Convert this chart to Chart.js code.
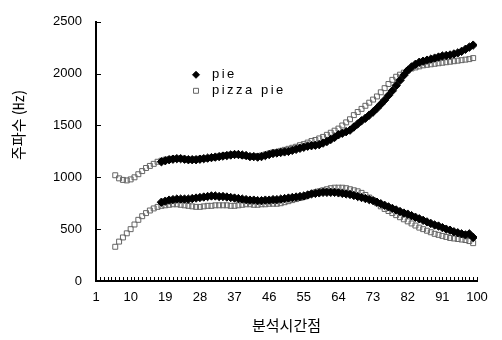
<!DOCTYPE html>
<html>
<head>
<meta charset="utf-8">
<script src="https://cdn.jsdelivr.net/npm/chart.js@4.4.1/dist/chart.umd.min.js"></script>
<style>
  html, body { margin: 0; padding: 0; background: #fff; }
</style>
</head>
<body>
<canvas id="myChart" width="502" height="340"></canvas>
<script>
// analysis frames: each series starts at its own frame, one value per frame
const pizzaStart = 6;
const pieStart = 18;

// pizza pie, upper track (frames 6..99)
const pizzaUpper = [
  1020, 990, 975, 970, 980, 1000, 1030, 1060, 1090, 1110,
  1130, 1150, 1160, 1170, 1175, 1180, 1180, 1180, 1175, 1170,
  1170, 1175, 1180, 1180, 1185, 1190, 1195, 1200, 1210, 1215,
  1220, 1220, 1215, 1210, 1205, 1200, 1200, 1205, 1210, 1220,
  1230, 1240, 1245, 1255, 1265, 1275, 1285, 1295, 1310, 1320,
  1335, 1350, 1360, 1375, 1390, 1410, 1430, 1450, 1470, 1500,
  1530, 1560, 1600, 1630, 1660, 1690, 1720, 1750, 1780, 1820,
  1860, 1900, 1940, 1970, 1990, 2010, 2030, 2050, 2060, 2070,
  2080, 2085, 2090, 2095, 2100, 2105, 2110, 2115, 2120, 2125,
  2130, 2135, 2140, 2150
];
// pizza pie, lower track (frames 6..99)
const pizzaLower = [
  330, 380, 420, 460, 500, 545, 590, 625, 655, 680,
  700, 715, 725, 730, 735, 740, 740, 735, 730, 725,
  720, 715, 715, 720, 725, 725, 730, 730, 730, 730,
  725, 725, 730, 735, 740, 740, 735, 735, 740, 740,
  745, 745, 745, 750, 760, 770, 780, 790, 800, 810,
  825, 840, 855, 865, 875, 885, 895, 900, 900, 900,
  895, 885, 875, 865, 850, 830, 805, 780, 750, 720,
  695, 675, 655, 635, 615, 595, 575, 555, 535, 515,
  500, 485, 470, 455, 445, 435, 425, 415, 410, 405,
  400, 395, 385, 365
];
// pie, upper track (frames 18..99)
const pieUpper = [
  1150, 1160, 1170, 1175, 1180, 1180, 1175, 1170, 1170, 1170,
  1175, 1180, 1185, 1190, 1195, 1200, 1205, 1210, 1215, 1220,
  1220, 1215, 1210, 1200, 1200, 1195, 1200, 1210, 1220, 1230,
  1235, 1240, 1245, 1250, 1260, 1270, 1280, 1290, 1300, 1305,
  1310, 1315, 1330, 1345, 1365, 1385, 1410, 1425, 1440, 1455,
  1485, 1515, 1545, 1570, 1600, 1630, 1665, 1705, 1745, 1790,
  1835, 1885, 1935, 1985, 2030, 2065, 2090, 2110, 2120, 2130,
  2140, 2150, 2160, 2170, 2175, 2180, 2190, 2200, 2215, 2235,
  2255, 2275
];
// pie, lower track (frames 18..99)
const pieLower = [
  760, 770, 780, 785, 790, 790, 790, 790, 795, 800,
  805, 810, 815, 820, 820, 815, 815, 810, 805, 800,
  795, 790, 785, 780, 780, 775, 775, 780, 780, 785,
  785, 790, 795, 800, 805, 810, 815, 820, 830, 840,
  845, 850, 855, 855, 855, 855, 850, 845, 840, 835,
  825, 815, 805, 795, 785, 775, 760, 745, 730, 715,
  700, 685, 670, 655, 645, 630, 615, 600, 585, 570,
  555, 540, 530, 515, 500, 490, 475, 465, 455, 445,
  455, 420
];

const xTickLabels = [1, 10, 19, 28, 37, 46, 55, 64, 73, 82, 91, 100];
const yTicks = [0, 500, 1000, 1500, 2000, 2500];
const seriesNames = ['pie', 'pizza pie'];

const toPoints = (start, arr) => arr.map((v, i) => ({ x: start + i, y: v }));

const pieStyle = {
  pointStyle: 'rectRot', pointRadius: 4.2,
  backgroundColor: '#000', borderColor: '#000', borderWidth: 1
};
const pizzaStyle = {
  pointStyle: 'rect', pointRadius: 3.5,
  backgroundColor: 'rgba(255,255,255,0)', borderColor: '#666', borderWidth: 1
};

const tickFont = { family: "'Liberation Sans', Arial, sans-serif", size: 13 };
const krFont = "'Noto Sans CJK KR', sans-serif";

function legendMark(ctx, style, radius, px, py) {
  ctx.fillStyle = style.backgroundColor;
  ctx.strokeStyle = style.borderColor;
  ctx.lineWidth = style.borderWidth;
  Chart.helpers.drawPoint(ctx, {
    pointStyle: style.pointStyle, radius: radius, rotation: 0, borderWidth: style.borderWidth
  }, px, py);
}

// inner tick marks, y title and the legend inside the plot
const extras = {
  id: 'extras',
  afterDraw(chart) {
    const { ctx, chartArea: { left, top, bottom }, scales: { x, y } } = chart;
    ctx.save();
    ctx.strokeStyle = '#000';
    ctx.lineWidth = 1;
    yTicks.forEach(v => {
      const py = Math.round(y.getPixelForValue(v)) + 0.5;
      ctx.beginPath();
      ctx.moveTo(left, py);
      ctx.lineTo(left + 5, py);
      ctx.stroke();
    });
    x.ticks.forEach(t => {
      const px = Math.round(x.getPixelForValue(t.value)) + 0.5;
      ctx.beginPath();
      ctx.moveTo(px, bottom);
      ctx.lineTo(px, bottom - 4);
      ctx.stroke();
    });

    // y axis title
    ctx.fillStyle = '#000';
    ctx.font = '15px ' + krFont;
    ctx.translate(18, 125);
    ctx.rotate(-Math.PI / 2);
    ctx.textAlign = 'center';
    ctx.textBaseline = 'middle';
    ctx.fillText('주파수 (㎐)', 0, 0);
    ctx.restore();

    // legend
    ctx.save();
    const lx = left + 100, ly = top + 53;
    legendMark(ctx, pieStyle, 3.5, lx, ly);
    legendMark(ctx, pizzaStyle, 3.5, lx, ly + 16);
    ctx.fillStyle = '#000';
    ctx.font = '13px ' + tickFont.family;
    ctx.letterSpacing = '2.5px';
    ctx.textAlign = 'left';
    ctx.textBaseline = 'middle';
    ctx.fillText(seriesNames[0], lx + 16, ly);
    ctx.fillText(seriesNames[1], lx + 16, ly + 16);
    ctx.restore();
  }
};

new Chart(document.getElementById('myChart'), {
  type: 'scatter',
  plugins: [extras],
  data: {
    datasets: [
      { label: seriesNames[0], data: toPoints(pieStart, pieUpper), ...pieStyle },
      { label: seriesNames[0], data: toPoints(pieStart, pieLower), ...pieStyle },
      { label: seriesNames[1], data: toPoints(pizzaStart, pizzaUpper), ...pizzaStyle },
      { label: seriesNames[1], data: toPoints(pizzaStart, pizzaLower), ...pizzaStyle }
    ]
  },
  options: {
    responsive: false,
    animation: false,
    layout: { padding: { top: 15, right: 25, left: 0, bottom: 0 } },
    plugins: {
      legend: { display: false },
      tooltip: { enabled: false }
    },
    scales: {
      x: {
        type: 'linear',
        min: 1,
        max: 100,
        afterFit: (s) => { s.height = 59; },
        grid: { display: false, drawTicks: false },
        border: { display: true, color: '#000', width: 2 },
        ticks: {
          stepSize: 1,
          autoSkip: false,
          maxRotation: 0,
          padding: 9,
          color: '#000',
          font: tickFont,
          callback: (v) => xTickLabels.includes(v) ? String(v) : ''
        },
        title: {
          display: true,
          text: '분석시간점',
          color: '#000',
          font: { family: krFont, size: 15 },
          padding: { top: 0, bottom: 6 }
        }
      },
      y: {
        min: 0,
        max: 2500,
        afterFit: (s) => { s.width = 96; },
        grid: { display: false, drawTicks: false },
        border: { display: true, color: '#000', width: 2 },
        ticks: {
          stepSize: 500,
          padding: 14,
          color: '#000',
          font: tickFont,
          callback: (v) => String(v)
        }
      }
    }
  }
});
</script>
</body>
</html>
